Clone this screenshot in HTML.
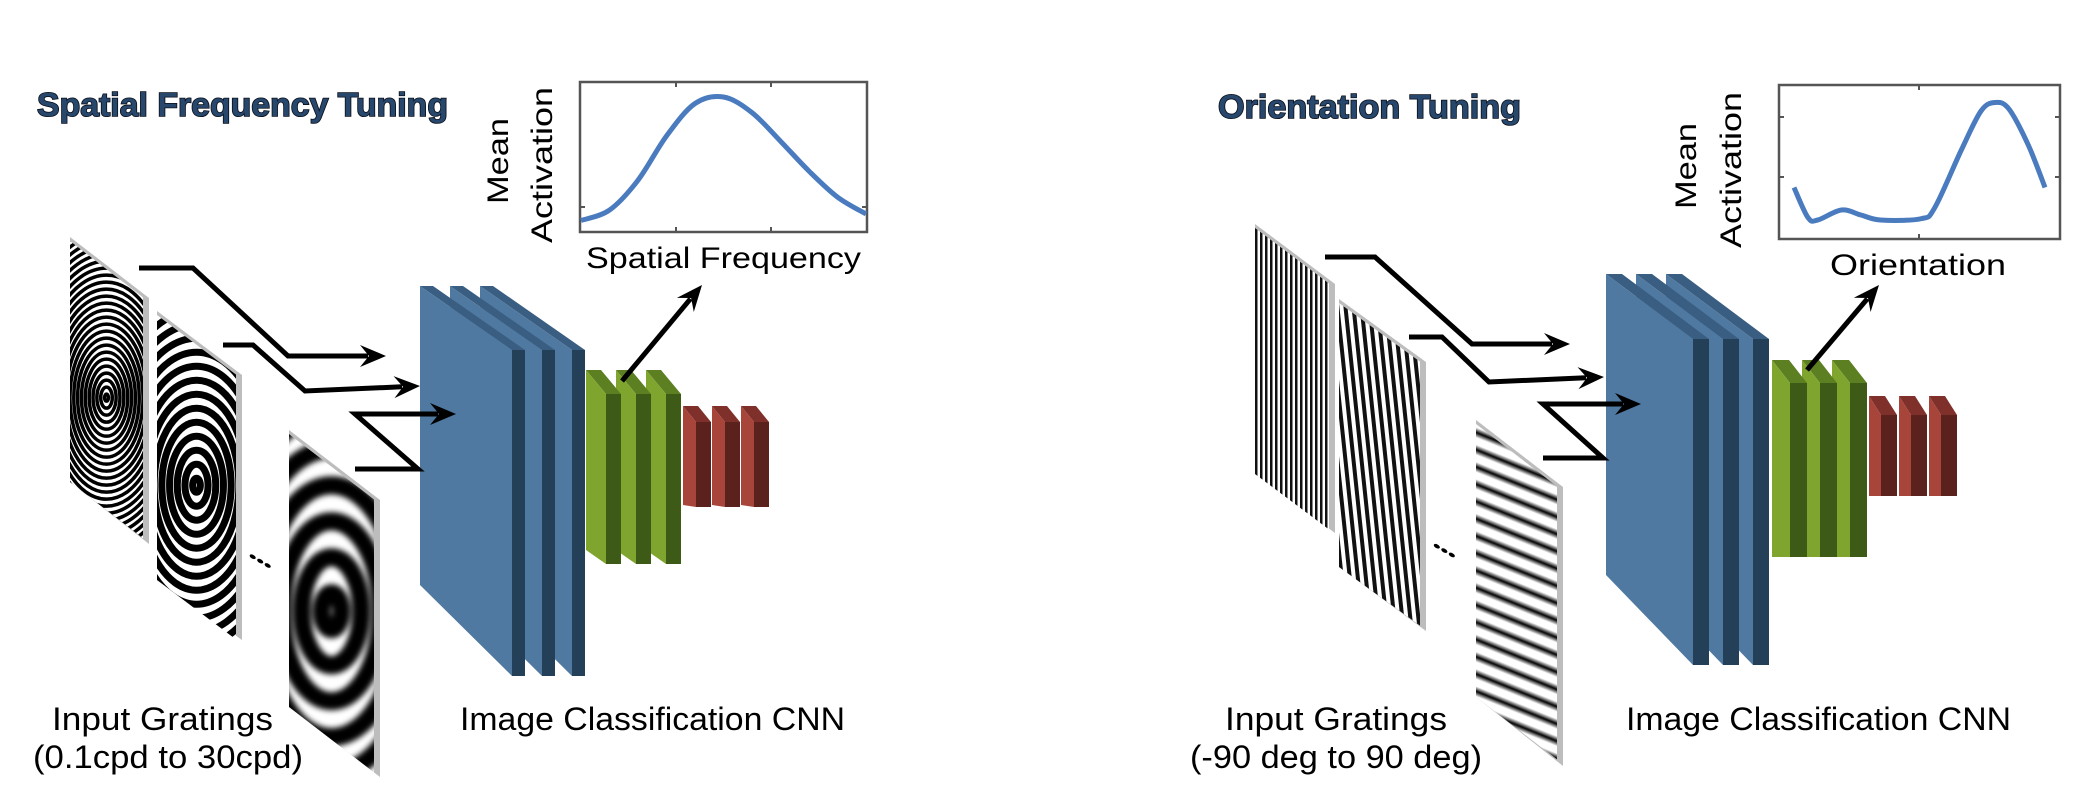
<!DOCTYPE html>
<html><head><meta charset="utf-8"><style>
html,body{margin:0;padding:0;background:#fff;}
svg{display:block;}
text{font-family:"Liberation Sans",sans-serif;}
</style></head><body>
<svg id="fig" width="2088" height="808" viewBox="0 0 2088 808" xmlns="http://www.w3.org/2000/svg">
<defs>
<filter id="blur3"><feGaussianBlur stdDeviation="3"/></filter>
<pattern id="pVert" patternUnits="userSpaceOnUse" width="5" height="10"><rect width="5" height="10" fill="#fff"/><rect width="2.5" height="10" fill="#111"/></pattern>
<pattern id="pSlant" patternUnits="userSpaceOnUse" width="8" height="10" patternTransform="rotate(-6)"><rect width="8" height="10" fill="#fff"/><rect width="4" height="10" fill="#111"/></pattern>
<linearGradient id="gStripe" x1="0" y1="0" x2="0" y2="1"><stop offset="0" stop-color="#fff"/><stop offset="0.2" stop-color="#fff"/><stop offset="0.5" stop-color="#000"/><stop offset="0.8" stop-color="#fff"/><stop offset="1" stop-color="#fff"/></linearGradient>
<pattern id="pDiag" patternUnits="userSpaceOnUse" width="20" height="16" patternTransform="rotate(22)"><rect width="20" height="16" fill="url(#gStripe)"/></pattern>
</defs>
<g id="leftPanel"></g>
<g id="rightPanel"></g>
</svg>
<script>
// Spatial frequency tuning curve data (relative index along SF axis, mean activation)
const sfIndex = [0, 1, 2, 3, 4, 5, 6, 7, 8, 9, 10];
const sfActivation = [0.05, 0.13, 0.36, 0.70, 0.95, 1.0, 0.88, 0.66, 0.43, 0.23, 0.10];
// Orientation tuning curve data (deg, mean activation)
const oriDeg = [-90, -80, -73, -56, -42, -28, 1, 11, 30, 44, 54, 64, 78, 90];
const oriActivation = [0.30, 0.06, 0.04, 0.12, 0.08, 0.04, 0.05, 0.14, 0.60, 0.91, 0.98, 0.93, 0.64, 0.30];

const NS = "http://www.w3.org/2000/svg";
function mk(tag, attrs, parent) {
  const e = document.createElementNS(NS, tag);
  for (const k in attrs) e.setAttribute(k, attrs[k]);
  if (parent) parent.appendChild(e);
  return e;
}
function pts(a) { return a.map(p => p[0] + "," + p[1]).join(" "); }
function smoothPath(P) {
  let d = "M" + P[0][0] + "," + P[0][1];
  for (let i = 0; i < P.length - 1; i++) {
    const p0 = P[Math.max(i - 1, 0)], p1 = P[i], p2 = P[i + 1], p3 = P[Math.min(i + 2, P.length - 1)];
    const c1 = [p1[0] + (p2[0] - p0[0]) / 6, p1[1] + (p2[1] - p0[1]) / 6];
    const c2 = [p2[0] - (p3[0] - p1[0]) / 6, p2[1] - (p3[1] - p1[1]) / 6];
    d += " C" + c1[0] + "," + c1[1] + " " + c2[0] + "," + c2[1] + " " + p2[0] + "," + p2[1];
  }
  return d;
}
let clipId = 0;
function plate(g, x, w, yTL, yTR, yBR, yBL, fillFn, name) {
  const pg = mk("g", {}, g);
  
  
  mk("polygon", { points: pts([[x, yTL], [x + w, yTR], [x + w, yBR], [x, yBL]]), fill: "#bdbdbd" }, pg);
  const iw = w - 6, s = (yTR - yTL) / w;
  const poly = [[x, yTL + 4], [x + iw, yTL + 4 + s * iw], [x + iw, yBL + s * iw], [x, yBL]];
  const id = "clip" + (clipId++);
  const cp = mk("clipPath", { id: id }, pg);
  mk("polygon", { points: pts(poly) }, cp);
  const inner = mk("g", { "clip-path": "url(#" + id + ")" }, pg);
  fillFn(inner, x, yTL, iw, yBL + s * iw);
}
function rings(period, blur) {
  return function (g, x, y0, w, y1) {
    mk("rect", { x: x - 5, y: y0 - 5, width: w + 10, height: y1 - y0 + 10, fill: "#fff" }, g);
    const cx = x + w / 2, cy = (y0 + y1) / 2 + 10;
    const gg = mk("g", blur ? { filter: "url(#blur3)" } : {}, g);
    for (let r = period / 2; r < 260; r += period) {
      mk("ellipse", { cx: cx, cy: cy, rx: r * 0.55, ry: r, fill: "none", stroke: "#000", "stroke-width": period / 2 }, gg);
    }
  };
}
function patFill(id) {
  return function (g, x, y0, w, y1) {
    mk("rect", { x: x - 5, y: y0 - 5, width: w + 10, height: y1 - y0 + 10, fill: "url(#" + id + ")" }, g);
  };
}
function slabs(g, x0, yT, w, s, hL, hR, t, off, cols, name) {
  for (let i = 2; i >= 0; i--) {
    const x = x0 + i * off;
    const sg = mk("g", {}, g);
    
    
    const TL = [x, yT], TR = [x + w, yT + s], BR = [x + w, yT + s + hR], BL = [x, yT + hL];
    mk("polygon", { points: pts([TL, [TL[0] + t, TL[1]], [TR[0] + t, TR[1]], TR]), fill: cols[2] }, sg);
    mk("polygon", { points: pts([TR, [TR[0] + t, TR[1]], [BR[0] + t, BR[1]], BR]), fill: cols[1] }, sg);
    mk("polygon", { points: pts([TL, TR, BR, BL]), fill: cols[0] }, sg);
  }
}
function arrow(g, P, name) {
  const ag = mk("g", {}, g);
  
  
  const n = P.length, a = P[n - 2], b = P[n - 1];
  const dx = b[0] - a[0], dy = b[1] - a[1], L = Math.hypot(dx, dy), ux = dx / L, uy = dy / L;
  const base = [b[0] - ux * 22, b[1] - uy * 22];
  const Q = P.slice(0, n - 1).concat([[base[0] + ux * 4, base[1] + uy * 4]]);
  mk("polyline", { points: pts(Q), fill: "none", stroke: "#000", "stroke-width": 5, "stroke-linejoin": "miter" }, ag);
  mk("polygon", { points: pts([b, [base[0] - uy * 11 - ux * 4, base[1] + ux * 11 - uy * 4], [base[0] + ux * 5, base[1] + uy * 5], [base[0] + uy * 11 - ux * 4, base[1] - ux * 11 - uy * 4]]), fill: "#000" }, ag);
}
function label(g, txt, x, y, len, size, name, extra) {
  const t = mk("text", Object.assign({ x: x, y: y, "font-size": size, textLength: len, lengthAdjust: "spacingAndGlyphs", fill: "#000" }, extra || {}), g);
  t.textContent = txt;
  
  
  return t;
}
function chart(g, box, xs, ys, xDom, xr, yr, xTicks, yTicks, xlab, xlabX, xlabLen, mx, ax, name) {
  const cg = mk("g", {}, g);
  
  
  const X = v => xr[0] + (v - xDom[0]) / (xDom[1] - xDom[0]) * (xr[1] - xr[0]);
  const Y = v => yr[0] + v * (yr[1] - yr[0]);
  mk("rect", { x: box[0], y: box[1], width: box[2] - box[0], height: box[3] - box[1], fill: "#fff", stroke: "#555", "stroke-width": 2.5 }, cg);
  xTicks.forEach(tx => { mk("line", { x1: tx, y1: box[3], x2: tx, y2: box[3] - 5, stroke: "#555", "stroke-width": 2 }, cg); mk("line", { x1: tx, y1: box[1], x2: tx, y2: box[1] + 5, stroke: "#555", "stroke-width": 2 }, cg); });
  yTicks.forEach(ty => { mk("line", { x1: box[0], y1: ty, x2: box[0] + 5, y2: ty, stroke: "#555", "stroke-width": 2 }, cg); mk("line", { x1: box[2], y1: ty, x2: box[2] - 5, y2: ty, stroke: "#555", "stroke-width": 2 }, cg); });
  const P = xs.map((v, i) => [X(v), Y(ys[i])]);
  const line = mk("path", { d: smoothPath(P), fill: "none", stroke: "#4a7bbf", "stroke-width": 5, "stroke-linecap": "butt" }, cg);
  
  
  const cy = (box[1] + box[3]) / 2 + 4;
  label(cg, "Mean", mx, cy, 86, 30, "y-axis-title-mean", { transform: "rotate(-90 " + mx + " " + cy + ")", "text-anchor": "middle" });
  label(cg, "Activation", ax, cy + 4, 156, 30, "y-axis-title-activation", { transform: "rotate(-90 " + ax + " " + (cy + 4) + ")", "text-anchor": "middle" });
  label(cg, xlab, xlabX, box[3] + 36, xlabLen, 30, "x-axis-title");
}
function title(g, txt, x, y, len) {
  const t = mk("text", { x: x, y: y, "font-size": 33, "font-weight": "bold", textLength: len, lengthAdjust: "spacingAndGlyphs", fill: "#27476d", stroke: "#0a0f18", "stroke-width": 1.6, "paint-order": "stroke" }, g);
  t.textContent = txt;
  
  
}

const blue = ["#4f79a0", "#243f58", "#3a5e82"], green = ["#80a52f", "#3e5a17", "#5c7f22"], red = ["#a8453a", "#5b211c", "#80302a"];

// LEFT PANEL
const L = document.getElementById("leftPanel");
title(L, "Spatial Frequency Tuning", 37, 116, 411);
chart(L, [580, 82, 867, 232], sfIndex, sfActivation, [0, 10], [581, 866], [227, 97], [676, 771], [207], "Spatial Frequency", 586, 275, 508, 552, "sf-tuning-chart");
plate(L, 70, 79, 237, 298, 544, 482, rings(7, false), "grating-high-sf");
plate(L, 157, 85, 311, 375, 640, 580, rings(14, false), "grating-mid-sf");
plate(L, 289, 91, 430, 500, 777, 707, rings(36, true), "grating-low-sf");
label(L, "\u2022\u2022\u2022", 250, 566, 26, 14, "ellipsis-dots", { transform: "rotate(30 262 556)" });
slabs(L, 420, 286, 92, 64, 299, 326, 13, 30, blue, "conv-layer");
slabs(L, 586, 370, 20, 24, 180, 170, 15, 30, green, "mid-layer");
slabs(L, 683, 406, 13, 16, 99, 85, 15, 29, red, "fc-layer");
arrow(L, [[139, 268], [193, 268], [288, 356], [386, 356]], "input-arrow-1");
arrow(L, [[223, 345], [253, 345], [305, 391], [420, 386]], "input-arrow-2");
arrow(L, [[355, 469], [418, 469], [355, 414], [456, 414]], "input-arrow-3");
arrow(L, [[622, 381], [702, 285]], "output-arrow");
label(L, "Input Gratings", 52, 730, 221, 32, "input-gratings-label");
label(L, "(0.1cpd to 30cpd)", 33, 768, 270, 32, "sf-range-label");
label(L, "Image Classification CNN", 460, 730, 385, 32, "cnn-label");

// RIGHT PANEL
const R = document.getElementById("rightPanel");
title(R, "Orientation Tuning", 1218, 118, 303);
chart(R, [1779, 85, 2060, 239], oriDeg, oriActivation, [-90, 90], [1794, 2045], [225, 100], [1919], [117, 177], "Orientation", 1830, 176, 1696, 1741, "orientation-tuning-chart");
plate(R, 1255, 80, 224, 284, 533, 474, patFill("pVert"), "grating-vertical");
plate(R, 1339, 87, 299, 362, 631, 567, patFill("pSlant"), "grating-slanted");
plate(R, 1476, 87, 420, 487, 766, 697, patFill("pDiag"), "grating-diagonal");
label(R, "\u2022\u2022\u2022", 1434, 556, 26, 14, "ellipsis-dots", { transform: "rotate(30 1447 546)" });
slabs(R, 1606, 274, 87, 65, 301, 326, 16, 30, blue, "conv-layer");
slabs(R, 1772, 360, 18, 23, 197, 174, 17, 30, green, "mid-layer");
slabs(R, 1869, 396, 12, 19, 100, 81, 16, 30, red, "fc-layer");
arrow(R, [[1325, 257], [1375, 257], [1472, 344], [1570, 344]], "input-arrow-1");
arrow(R, [[1409, 337], [1442, 337], [1489, 382], [1604, 377]], "input-arrow-2");
arrow(R, [[1543, 458], [1603, 458], [1543, 404], [1641, 404]], "input-arrow-3");
arrow(R, [[1807, 370], [1879, 285]], "output-arrow");
label(R, "Input Gratings", 1225, 730, 222, 32, "input-gratings-label");
label(R, "(-90 deg to 90 deg)", 1190, 768, 292, 32, "orientation-range-label");
label(R, "Image Classification CNN", 1626, 730, 385, 32, "cnn-label");
</script>
</body></html>
